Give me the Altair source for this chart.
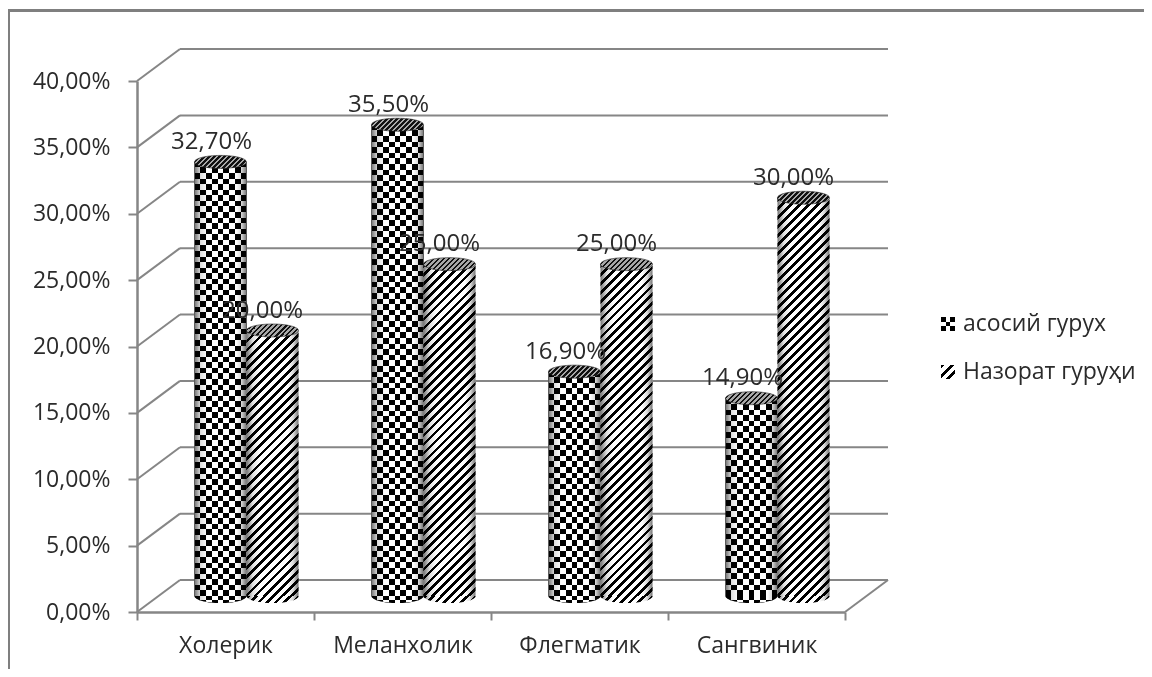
import altair as alt
import pandas as pd

categories = ["Холерик", "Меланхолик", "Флегматик", "Сангвиник"]
series_main = [32.7, 35.5, 16.9, 14.9]
series_ctrl = [20.0, 25.0, 25.0, 30.0]
series_names = ["асосий гурух", "Назорат гуруҳи"]
ticks = [0, 5, 10, 15, 20, 25, 30, 35, 40]

W, H = 708, 531
PX = H / 40.0
DEPTH_X, DEPTH_Y = 43, 32
BAR_W = 52
MID_Y = -16
GREY = "#868686"
TXT = "#2b2b2b"
FONT = "Open Sans"
FS = 23


def hard(n, a, b):
    stops = []
    for i in range(n):
        c = a if i % 2 == 0 else b
        stops.append(alt.GradientStop(color=c, offset=i / n))
        stops.append(alt.GradientStop(color=c, offset=(i + 1) / n))
    return stops


def hard_ratio(n, ratio, a, b):
    stops = []
    for i in range(n):
        mid = (i + ratio) / n
        stops += [alt.GradientStop(color=a, offset=i / n), alt.GradientStop(color=a, offset=mid),
                  alt.GradientStop(color=b, offset=mid), alt.GradientStop(color=b, offset=(i + 1) / n)]
    return stops


def vstripes(w, cell):
    return alt.LinearGradient(gradient="linear", x1=0, y1=0, x2=1, y2=0,
                              stops=hard(max(1, round(w / cell)), "#000000", "#ffffff"))


def hstripes(h, cell):
    return alt.LinearGradient(gradient="linear", x1=0, y1=0, x2=0, y2=1,
                              stops=hard(max(1, round(h / cell)), "#000000", "#ffffff"))


def diag(w, h, period, a="#000000", b="#ffffff", ratio=0.42):
    s = w * w + h * h
    return alt.LinearGradient(gradient="linear", x1=0, y1=0,
                              x2=(w + h) * w / s, y2=(w + h) * h / s,
                              stops=hard_ratio(max(1, round((w + h) / period)), ratio, a, b))


shade = alt.LinearGradient(
    gradient="linear", x1=0, y1=0, x2=1, y2=0,
    stops=[
        alt.GradientStop(color="rgba(0,0,0,0.55)", offset=0),
        alt.GradientStop(color="rgba(0,0,0,0.12)", offset=0.12),
        alt.GradientStop(color="rgba(0,0,0,0)", offset=0.25),
        alt.GradientStop(color="rgba(0,0,0,0)", offset=0.8),
        alt.GradientStop(color="rgba(0,0,0,0.15)", offset=0.9),
        alt.GradientStop(color="rgba(0,0,0,0.55)", offset=1),
    ],
)

ELLIPSE = "M-1,0 A1,0.25 0 1 1 1,0 A1,0.25 0 1 1 -1,0 Z"
BOTTOM = "M-1,0 A1,0.27 0 0 0 1,0 Z"

X = alt.X(
    "cat:N", sort=categories, title=None,
    scale=alt.Scale(paddingInner=0, paddingOuter=0),
    axis=alt.Axis(tickBand="extent", labelAngle=0, labelFont=FONT, labelFontSize=FS,
                  labelColor=TXT, labelPadding=14, tickSize=8, tickWidth=2, tickColor=GREY,
                  domainColor=GREY, domainWidth=2.5, grid=False),
)
y_scale = alt.Scale(domain=[0, 40], nice=False, zero=False)
y_axis = alt.Axis(values=ticks, labelExpr="replace(format(datum.value,'.2f'),'.',',')+'%'",
                  labelFont=FONT, labelFontSize=FS, labelColor=TXT, labelPadding=18,
                  tickSize=9, tickWidth=2, tickColor=GREY, domainColor=GREY, domainWidth=2.5,
                  grid=False)
Y = alt.Y("v:Q", title=None, scale=y_scale, axis=y_axis)
Y_BACK = alt.Y("back:Q", title=None, scale=y_scale, axis=y_axis)
Y_ZERO = alt.Y("z:Q", title=None, scale=y_scale, axis=y_axis)

back = DEPTH_Y / PX
grid_df = pd.DataFrame({"v": ticks, "back": [t + back for t in ticks]})
floor_df = grid_df[grid_df.v == 0]

layers = [
    alt.Chart(grid_df).mark_rule(color=GREY, strokeWidth=2).encode(
        x=alt.value(DEPTH_X), x2=alt.value(W + DEPTH_X), y=Y_BACK),
    alt.Chart(grid_df).mark_rule(color=GREY, strokeWidth=2).encode(
        x=alt.value(0), x2=alt.value(DEPTH_X), y=Y, y2=alt.Y2("back:Q")),
    alt.Chart(floor_df).mark_rule(color=GREY, strokeWidth=2).encode(
        x=alt.value(W), x2=alt.value(W + DEPTH_X), y=Y, y2=alt.Y2("back:Q")),
]

# frame of the picture
frame_df = pd.DataFrame({"k": [0]})
layers += [
    alt.Chart(frame_df).mark_rule(color="#7f7f7f", strokeWidth=3).encode(
        x=alt.value(-129), x2=alt.value(1020), y=alt.value(-70.5)),
    alt.Chart(frame_df).mark_rule(color="#7f7f7f", strokeWidth=3).encode(
        x=alt.value(-128.5), y=alt.value(-71), y2=alt.value(600)),
]


def cylinder(cat, val, off, checker):
    d = pd.DataFrame({"cat": [cat], "v": [val], "z": [0.0]})
    h = val * PX
    out = []
    kw = dict(xOffset=off, yOffset=MID_Y)
    bar = dict(size=BAR_W, y2Offset=MID_Y, **kw)
    enc_bar = dict(x=X, y=Y, y2=alt.Y2("z:Q"))
    pt = dict(shape=BOTTOM, size=BAR_W ** 2, filled=True, opacity=1, strokeWidth=0, **kw)
    enc_pt = dict(x=X, y=Y_ZERO)
    if checker:
        out.append(alt.Chart(d).mark_point(fill=vstripes(BAR_W, 5.6), **pt).encode(**enc_pt))
        out.append(alt.Chart(d).mark_point(fill=hstripes(7, 3.5), blend="difference", **pt).encode(**enc_pt))
        out.append(alt.Chart(d).mark_bar(fill=vstripes(BAR_W, 5.6), **bar).encode(**enc_bar))
        out.append(alt.Chart(d).mark_bar(fill=hstripes(h, 5.6), blend="difference", **bar).encode(**enc_bar))
    else:
        out.append(alt.Chart(d).mark_point(fill=diag(BAR_W, 7, 9), **pt).encode(**enc_pt))
        out.append(alt.Chart(d).mark_bar(fill=diag(BAR_W, h, 9), **bar).encode(**enc_bar))
    out.append(alt.Chart(d).mark_point(fill=shade, **pt).encode(**enc_pt))
    out.append(alt.Chart(d).mark_bar(fill=shade, **bar).encode(**enc_bar))
    top = dict(pt)
    top["shape"] = ELLIPSE
    top["strokeWidth"] = 0.6
    out.append(alt.Chart(d).mark_point(fill=diag(BAR_W, 13, 5, "#111111", "#a8a8a8", 0.5),
                                       stroke="#222222", **top).encode(x=X, y=Y))
    return out


for cat, a, b in zip(categories, series_main, series_ctrl):
    layers += cylinder(cat, a, -5, True)
    layers += cylinder(cat, b, 47, False)

for cat, a, b in zip(categories, series_main, series_ctrl):
    for val, off in ((a, -14), (b, 37)):
        d = pd.DataFrame({"cat": [cat], "v": [val], "t": [f"{val:.2f}%".replace(".", ",")]})
        layers.append(
            alt.Chart(d).mark_text(font=FONT, fontSize=24, color=TXT, baseline="middle",
                                   xOffset=off, yOffset=MID_Y - 20).encode(x=X, y=Y, text="t:N"))

# legend
for i, (name, py) in enumerate(zip(series_names, (243, 291))):
    d = pd.DataFrame({"t": [name]})
    layers.append(alt.Chart(d).mark_text(font=FONT, fontSize=FS, color=TXT, align="left",
                                         baseline="middle").encode(
        x=alt.value(826), y=alt.value(py), text="t:N"))
    sq = dict(shape="square", size=196, filled=True, opacity=1, strokeWidth=0)
    if i == 0:
        layers.append(alt.Chart(d).mark_point(fill=vstripes(14, 4.7), **sq).encode(
            x=alt.value(811), y=alt.value(py)))
        layers.append(alt.Chart(d).mark_point(fill=hstripes(14, 4.7), blend="difference", **sq).encode(
            x=alt.value(811), y=alt.value(py)))
    else:
        layers.append(alt.Chart(d).mark_point(fill=diag(14, 14, 9), **sq).encode(
            x=alt.value(811), y=alt.value(py)))

chart = alt.layer(*layers).properties(
    width=W, height=H,
    padding={"left": 129, "top": 73, "right": 299, "bottom": 57},
    autosize=alt.AutoSizeParams(type="none"),
    background="white",
).configure_view(stroke=None)

chart.save("out.html", embed_options={"renderer": "svg", "actions": False})
